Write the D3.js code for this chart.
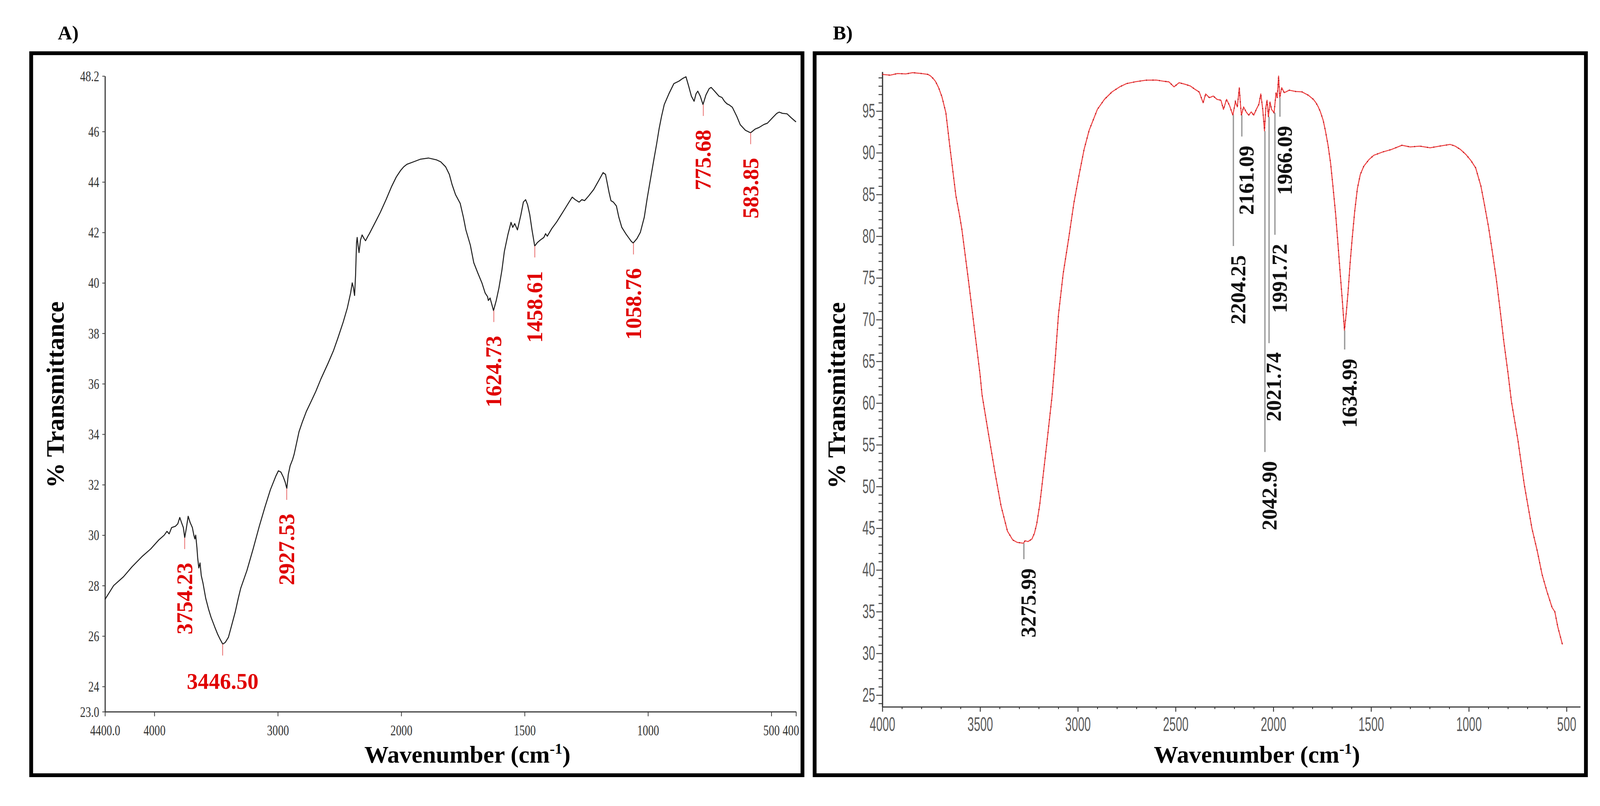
<!DOCTYPE html>
<html>
<head>
<meta charset="utf-8">
<script src="https://cdn.jsdelivr.net/npm/d3@7"></script>
<style>
  html, body { margin: 0; padding: 0; width: 100%; height: 100%; overflow: hidden; background: #fff; }
  #chart { width: 100vw; height: 100vh; }
  svg { display: block; }
</style>
</head>
<body>
<div id="chart"></div>
<script>
// ---------- data: panel A (black spectrum) ----------
var wavenumberA = [4400, 4330, 4250, 4180, 4100, 4030, 3966, 3920, 3898, 3880, 3860, 3830, 3810, 3794, 3780, 3765,
  3754, 3740, 3726, 3710, 3692, 3680, 3672, 3665, 3655, 3649, 3640, 3630, 3620, 3606, 3584, 3560, 3541, 3510,
  3486, 3465, 3446, 3425, 3400, 3375, 3345, 3320, 3300, 3250, 3200, 3150, 3105, 3060, 3015, 2995, 2975, 2955,
  2940, 2927, 2915, 2900, 2880, 2868, 2850, 2828, 2800, 2769, 2730, 2692, 2650, 2594, 2550, 2514, 2470, 2437,
  2410, 2397, 2387, 2378, 2370, 2362, 2357, 2350, 2342, 2330, 2317, 2300, 2289, 2270, 2258, 2200, 2169, 2123,
  2080, 2040, 2006, 1990, 1977, 1950, 1923, 1890, 1858, 1840, 1820, 1805, 1794, 1780, 1761, 1748, 1738, 1720,
  1706, 1690, 1673, 1660, 1650, 1647, 1640, 1626, 1615, 1604, 1592, 1582, 1568, 1555, 1548, 1540, 1529, 1515,
  1505, 1496, 1488, 1479, 1470, 1459, 1448, 1436, 1422, 1415, 1408, 1390, 1371, 1355, 1339, 1320, 1307, 1295,
  1279, 1268, 1257, 1240, 1220, 1200, 1182, 1172, 1166, 1158, 1150, 1140, 1128, 1118, 1106, 1090, 1079, 1068,
  1060, 1045, 1031, 1015, 1003, 990, 977, 965, 955, 945, 934, 915, 895, 874, 860, 846, 835, 824, 813, 805, 798,
  788, 777, 765, 752, 744, 730, 712, 700, 690, 680, 670, 658, 640, 626, 605, 584, 565, 550, 530, 516, 495, 478,
  468, 455, 436, 420, 400];
var transA = [27.45, 28.0, 28.35, 28.75, 29.15, 29.45, 29.8, 30.0, 30.15, 30.05, 30.3, 30.35, 30.45, 30.7, 30.5, 30.3,
  29.9, 30.3, 30.75, 30.5, 30.3, 30.0, 29.85, 30.0, 29.5, 29.1, 28.7, 28.9, 28.4, 28.1, 27.5, 27.05, 26.75, 26.35,
  26.06, 25.85, 25.68, 25.75, 25.95, 26.4, 26.95, 27.5, 27.9, 28.6, 29.45, 30.35, 31.1, 31.8, 32.35, 32.55, 32.5, 32.3,
  32.1, 31.85, 32.4, 32.75, 33.0, 33.2, 33.6, 34.1, 34.5, 34.9, 35.3, 35.7, 36.2, 36.8, 37.3, 37.8, 38.45, 39.0,
  39.6, 40.0, 39.8, 39.5, 40.3, 41.6, 41.8, 41.5, 41.2, 41.7, 41.9, 41.75, 41.67, 41.85, 41.95, 42.5, 42.8, 43.3,
  43.8, 44.2, 44.45, 44.6, 44.7, 44.8, 44.9, 44.95, 44.88, 44.8, 44.6, 44.3, 43.9, 43.5, 43.15, 42.6, 42.1, 41.5,
  40.8, 40.4, 40.0, 39.6, 39.45, 39.3, 39.4, 38.9, 39.3, 39.8, 40.5, 41.25, 41.9, 42.4, 42.2, 42.35, 42.1, 42.7,
  43.2, 43.3, 43.1, 42.7, 42.1, 41.46, 41.6, 41.7, 41.8, 41.95, 41.85, 42.15, 42.4, 42.65, 42.9, 43.2, 43.4, 43.3,
  43.2, 43.3, 43.26, 43.45, 43.7, 44.05, 44.37, 44.3, 44.0, 43.6, 43.26, 43.2, 43.05, 42.6, 42.2, 41.95, 41.8, 41.65,
  41.58, 41.75, 42.0, 42.6, 43.36, 44.1, 44.84, 45.5, 46.1, 46.6, 47.07, 47.5, 47.9, 48.0, 48.1, 48.17, 47.8, 47.4, 47.2, 47.5, 47.6,
  47.4, 47.07, 47.45, 47.7, 47.75, 47.6, 47.4, 47.35, 47.2, 47.1, 47.05, 46.96, 46.6, 46.27, 46.05, 45.95, 46.1, 46.16, 46.28, 46.33, 46.55, 46.72,
  46.77, 46.72, 46.7, 46.55, 46.38];

var peakLabelsA = ["3754.23", "2927.53", "3446.50", "1624.73", "1458.61", "1058.76", "775.68", "583.85"];
var peakWnA = [3754.23, 2927.53, 3446.50, 1624.73, 1458.61, 1058.76, 775.68, 583.85];
var peakTA = [29.9, 31.85, 25.68, 38.9, 41.46, 41.58, 47.07, 45.95];

var xTicksA = [4400, 4000, 3000, 2000, 1500, 1000, 500, 400];
var xTickLabelsA = ["4400.0", "4000", "3000", "2000", "1500", "1000", "500", "400"];
var yTicksA = [23, 24, 26, 28, 30, 32, 34, 36, 38, 40, 42, 44, 46, 48.2];
var yTickLabelsA = ["23.0", "24", "26", "28", "30", "32", "34", "36", "38", "40", "42", "44", "46", "48.2"];

// ---------- data: panel B (red spectrum) ----------
var wavenumberB = [4000, 3960, 3922, 3880, 3844, 3800, 3767, 3753, 3740, 3728, 3712, 3695, 3675, 3656, 3624, 3605,
  3593, 3560, 3529, 3500, 3490, 3457, 3424, 3393, 3360, 3333, 3310, 3294, 3278, 3270, 3255, 3235, 3222, 3210, 3195,
  3183, 3158, 3132, 3115, 3099, 3075, 3047, 3020, 2994, 2968, 2942, 2900, 2864, 2825, 2786, 2750, 2708, 2650,
  2599, 2560, 2534, 2508, 2482, 2450, 2424, 2404, 2379, 2359, 2346, 2327, 2307, 2288, 2268, 2255, 2239, 2223,
  2207, 2194, 2184, 2174, 2168, 2163, 2152, 2139, 2126, 2113, 2100, 2087, 2074, 2064, 2054, 2045, 2038, 2032,
  2025, 2017, 2009, 1996, 1986, 1980, 1973, 1967, 1957, 1944, 1918, 1886, 1853, 1821, 1795, 1782, 1770, 1759, 1745,
  1734, 1720, 1707, 1695, 1681, 1670, 1661, 1646, 1636, 1626, 1617, 1607, 1597, 1584, 1570, 1555, 1537, 1510,
  1486, 1440, 1395, 1342, 1300, 1250, 1198, 1150, 1095, 1070, 1043, 1015, 990, 965, 938, 920, 899, 880, 860,
  840, 821, 800, 782, 749, 716, 677, 650, 625, 600, 574, 560, 545, 521];
var transB = [99.4, 99.3, 99.5, 99.45, 99.6, 99.5, 99.4, 99.2, 98.9, 98.55, 97.8, 96.7, 94.8, 91.0, 84.9, 82.5,
  80.8, 74.8, 68.9, 63.4, 61.0, 56.3, 51.7, 47.7, 44.65, 43.6, 43.3, 43.25, 43.2, 43.5, 43.4, 43.7, 44.4, 45.55, 47.8,
  50.2, 55.3, 60.8, 65.5, 70.6, 75.5, 79.7, 84.0, 87.3, 90.4, 92.7, 95.2, 96.4, 97.3, 97.9, 98.3, 98.5, 98.7,
  98.72, 98.57, 98.5, 97.9, 98.4, 98.2, 98.0, 97.66, 97.28, 95.99, 97.05, 96.6, 96.8, 96.4, 96.3, 95.2, 96.4, 95.6,
  94.5, 96.1, 95.5, 97.8, 95.8, 94.5, 95.5, 94.9, 94.5, 94.9, 94.5, 95.2, 95.8, 97.05, 95.2, 92.6, 95.5, 96.3,
  94.3, 96.1, 95.2, 94.8, 97.2, 96.6, 99.2, 96.6, 97.8, 97.2, 97.5, 97.35, 97.3, 96.9, 96.4, 96.0, 95.5, 94.9, 93.9,
  92.7, 90.9, 88.75, 86.0, 82.6, 79.3, 76.5, 72.0, 68.7, 71.0, 73.5, 76.8, 79.6, 82.9, 85.7, 87.4, 88.4, 89.2,
  89.7, 90.1, 90.4, 90.9, 90.7, 90.8, 90.6, 90.8, 91.0, 90.8, 90.4, 89.8, 89.1, 88.2, 86.0, 83.8, 81.1, 78.2, 75.0,
  71.2, 67.4, 63.7, 60.2, 55.6, 50.2, 44.97, 42.3, 39.45, 37.4, 35.5, 35.0, 33.2, 31.06];

var peakLabelsB = ["3275.99", "2204.25", "2161.09", "2042.90", "2021.74", "1991.72", "1966.09", "1634.99"];
var peakWnB = [3275.99, 2204.25, 2161.09, 2042.90, 2021.74, 1991.72, 1966.09, 1634.99];
var peakTB = [43.2, 94.5, 94.5, 92.6, 94.3, 94.8, 96.6, 68.7];

var xTicksB = [4000, 3500, 3000, 2500, 2000, 1500, 1000, 500];
var yTicksB = [25, 30, 35, 40, 45, 50, 55, 60, 65, 70, 75, 80, 85, 90, 95];

// ---------- layout ----------
var svgWidth = 4207;
var svgHeight = 2064;
var serif = "'Liberation Serif', 'Times New Roman', serif";
var sans = "'Liberation Sans', Arial, sans-serif";
// drop length (px) of the grey marker lines in panel B, same order as peakLabelsB
var dropB = [42, 344, 56, 844, 595, 321, 50, 50];

var svg = d3.select("#chart")
  .append("svg")
  .attr("viewBox", "0 0 " + svgWidth + " " + svgHeight)
  .attr("preserveAspectRatio", "xMidYMid meet")
  .attr("width", "100%")
  .attr("height", "100%");

svg.append("rect").attr("width", svgWidth).attr("height", svgHeight).attr("fill", "#fff");

// panel frames
svg.append("rect")
  .attr("x", 82).attr("y", 112).attr("width", 2028).attr("height", 1899)
  .attr("fill", "none").attr("stroke", "#000").attr("stroke-width", 10);
svg.append("rect")
  .attr("x", 2142).attr("y", 112).attr("width", 2028).attr("height", 1899)
  .attr("fill", "none").attr("stroke", "#000").attr("stroke-width", 10);

// panel letters
svg.append("text").attr("x", 152).attr("y", 76)
  .style("font-family", serif).style("font-weight", "bold").style("font-size", "52px")
  .text("A)");
svg.append("text").attr("x", 2190).attr("y", 76)
  .style("font-family", serif).style("font-weight", "bold").style("font-size", "52px")
  .text("B)");

// ================= Panel A =================
var xA = d3.scaleLinear().domain([4400, 2000, 400]).range([276, 1055, 2093]);
var yA = d3.scaleLinear().domain([23, 48.2]).range([1844, 172]);

var gA = svg.append("g");

var xAxisA = gA.append("g")
  .attr("transform", "translate(0, 1844)")
  .call(d3.axisBottom(xA).tickValues(xTicksA)
    .tickFormat(function(d, i) { return xTickLabelsA[i]; })
    .tickSize(12).tickSizeOuter(0).tickPadding(22));

var yAxisA = gA.append("g")
  .attr("transform", "translate(276, 0)")
  .call(d3.axisLeft(yA).tickValues(yTicksA)
    .tickFormat(function(d, i) { return yTickLabelsA[i]; })
    .tickSize(7).tickSizeOuter(0).tickPadding(8));

[xAxisA, yAxisA].forEach(function(ax) {
  ax.select(".domain").attr("stroke", "#3a3a3a").attr("stroke-width", 3);
  ax.selectAll(".tick line").attr("stroke", "#3a3a3a").attr("stroke-width", 2);
  ax.selectAll("text")
    .style("font-family", serif).style("font-size", "40px").attr("fill", "#333");
});
xAxisA.selectAll("text").attr("transform", "scale(0.72,1)");
// the last label sits just inside the frame
xAxisA.selectAll(".tick").filter(function(d) { return d === 400; })
  .select("text").attr("x", -14 / 0.72);
yAxisA.selectAll("text").attr("transform", "scale(0.72,1)").attr("x", -15 / 0.72);

var lineA = d3.line()
  .x(function(d) { return xA(d[0]); })
  .y(function(d) { return yA(d[1]); });

gA.append("path")
  .datum(d3.zip(wavenumberA, transA))
  .attr("fill", "none")
  .attr("stroke", "#1e1e1e")
  .attr("stroke-width", 2.6)
  .attr("stroke-linejoin", "round")
  .attr("d", lineA);

// red peak markers and labels
var tickLenA = 30, gapA = 36;
peakLabelsA.forEach(function(lbl, i) {
  var px = xA(peakWnA[i]);
  var py = yA(peakTA[i]);
  gA.append("line")
    .attr("x1", px).attr("x2", px)
    .attr("y1", py).attr("y2", py + tickLenA)
    .attr("stroke", "#e86a6a").attr("stroke-width", 2);
  var t = gA.append("text")
    .style("font-family", serif).style("font-weight", "bold").style("font-size", "58px")
    .attr("fill", "#e00000")
    .text(lbl);
  if (lbl === "3446.50") {
    t.attr("x", px).attr("y", py + tickLenA + 88).attr("text-anchor", "middle");
  } else {
    t.attr("text-anchor", "end")
      .attr("dominant-baseline", "central")
      .attr("transform", "translate(" + px + "," + (py + tickLenA + gapA) + ") rotate(-90)");
  }
});

// axis titles A
gA.append("text")
  .attr("transform", "translate(167, 1010) rotate(-90)")
  .attr("text-anchor", "middle")
  .style("font-family", serif).style("font-weight", "bold").style("font-size", "66px")
  .text("% Transmittance");

var wA = gA.append("text")
  .attr("x", 1229).attr("y", 1978)
  .attr("text-anchor", "middle")
  .style("font-family", serif).style("font-weight", "bold").style("font-size", "64px");
wA.append("tspan").text("Wavenumber (cm");
wA.append("tspan").attr("dy", -24).style("font-size", "40px").text("-1");
wA.append("tspan").attr("dy", 24).text(")");

// ================= Panel B =================
var xB = d3.scaleLinear().domain([4000, 430]).range([2320, 4155]);
var yB = d3.scaleLinear().domain([23.6, 99.7]).range([1831, 161]);

var gB = svg.append("g");

var minorX = d3.range(4000, 430, -100).filter(function(d) { return d % 500 !== 0; });
var minorY = d3.range(24, 100, 1).filter(function(d) { return d % 5 !== 0; });

var xMinorB = gB.append("g")
  .attr("transform", "translate(0, 1831)")
  .call(d3.axisBottom(xB).tickValues(minorX).tickFormat("").tickSize(6).tickSizeOuter(0));
var yMinorB = gB.append("g")
  .attr("transform", "translate(2320, 0)")
  .call(d3.axisLeft(yB).tickValues(minorY).tickFormat("").tickSize(10).tickSizeOuter(0));

var xAxisB = gB.append("g")
  .attr("transform", "translate(0, 1831)")
  .call(d3.axisBottom(xB).tickValues(xTicksB).tickFormat(d3.format("d"))
    .tickSize(13).tickSizeOuter(0).tickPadding(14));
var yAxisB = gB.append("g")
  .attr("transform", "translate(2320, 0)")
  .call(d3.axisLeft(yB).tickValues(yTicksB).tickFormat(d3.format("d"))
    .tickSize(16).tickSizeOuter(0).tickPadding(3));

[xMinorB, yMinorB, xAxisB, yAxisB].forEach(function(ax) {
  ax.select(".domain").attr("stroke", "#3c3c3c").attr("stroke-width", 3);
  ax.selectAll(".tick line").attr("stroke", "#3c3c3c").attr("stroke-width", 2.5);
  ax.selectAll("text")
    .style("font-family", sans).style("font-size", "52px").attr("fill", "#5a5a5a");
});
xAxisB.selectAll("text").attr("transform", "scale(0.58,1)");
yAxisB.selectAll("text").attr("transform", "scale(0.58,1)").attr("x", -19 / 0.58);

var lineB = d3.line()
  .x(function(d) { return xB(d[0]); })
  .y(function(d) { return yB(d[1]); });

var dataB = d3.zip(wavenumberB, transB);

gB.append("path")
  .datum(dataB)
  .attr("fill", "none")
  .attr("stroke", "#ee3e3e")
  .attr("stroke-width", 2.6)
  .attr("stroke-linejoin", "round")
  .attr("d", lineB);

// darker sample dots along the trace
gB.append("path")
  .datum(dataB)
  .attr("fill", "none")
  .attr("stroke", "#a8101a")
  .attr("stroke-width", 3.2)
  .attr("stroke-dasharray", "2,15")
  .attr("d", lineB);

// grey marker lines and black labels
peakLabelsB.forEach(function(lbl, i) {
  var px = xB(peakWnB[i]);
  var py = yB(peakTB[i]);
  gB.append("line")
    .attr("x1", px).attr("x2", px)
    .attr("y1", py).attr("y2", py + dropB[i])
    .attr("stroke", "#9a9a9a").attr("stroke-width", 3.5);
  gB.append("text")
    .attr("text-anchor", "end")
    .attr("dominant-baseline", "central")
    .attr("transform", "translate(" + (px + 12) + "," + (py + dropB[i] + 24) + ") rotate(-90)")
    .style("font-family", serif).style("font-weight", "bold").style("font-size", "56px")
    .attr("fill", "#111")
    .text(lbl);
});

// axis titles B
gB.append("text")
  .attr("transform", "translate(2222, 1012) rotate(-90)")
  .attr("text-anchor", "middle")
  .style("font-family", serif).style("font-weight", "bold").style("font-size", "66px")
  .text("% Transmittance");

var wB = gB.append("text")
  .attr("x", 3305).attr("y", 1978)
  .attr("text-anchor", "middle")
  .style("font-family", serif).style("font-weight", "bold").style("font-size", "64px");
wB.append("tspan").text("Wavenumber (cm");
wB.append("tspan").attr("dy", -24).style("font-size", "40px").text("-1");
wB.append("tspan").attr("dy", 24).text(")");
</script>
</body>
</html>
